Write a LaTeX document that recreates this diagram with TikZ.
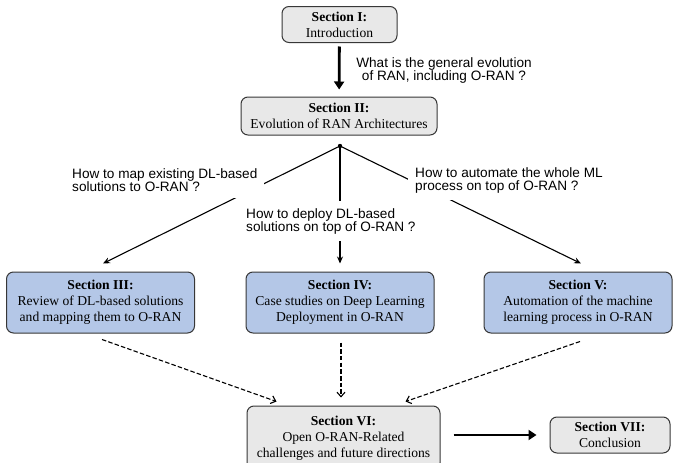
\documentclass[tikz,border=0pt]{standalone}
\usepackage{fontspec}
\setmainfont{Liberation Serif}
\newfontfamily\labelfont{Liberation Sans}
\usetikzlibrary{arrows.meta,calc}
\definecolor{boxgray}{RGB}{232,232,232}
\definecolor{boxblue}{RGB}{180,199,231}
\definecolor{boxline}{RGB}{55,55,55}
\begin{document}
\begin{tikzpicture}[x=1pt,y=-1pt,
 sec/.style={draw=boxline, line width=1pt, rounded corners=7pt, align=center,
   font=\fontsize{13.6}{16}\selectfont, inner sep=0pt},
 graysec/.style={sec, fill=boxgray},
 bluesec/.style={sec, fill=boxblue, minimum width=188pt, minimum height=61pt},
 qlabel/.style={font=\labelfont\fontsize{13.6}{13}\selectfont, align=left, fill=white, inner sep=7pt},
 thinarrow/.style={line width=1.1pt, -{Stealth[length=7pt,width=6pt]}},
 dasharrow/.style={line width=1.1pt, dash pattern=on 4.5pt off 2.2pt, -{Straight Barb[length=4.5pt,width=8pt]}},
 thickarrow/.style={line width=2.8pt, -{Triangle[length=8pt,width=10pt]}}
]
\useasboundingbox (0,0) rectangle (673,463);

% boxes
\node[graysec, minimum width=115pt, minimum height=36pt] (s1) at (339.5,24.5) {\textbf{Section I:}\\Introduction};
\node[graysec, minimum width=196pt, minimum height=38pt] (s2) at (339,116) {\textbf{Section II:}\\Evolution of RAN Architectures};
\node[bluesec] (s3) at (100.5,302.5) {\textbf{Section III:}\\Review of DL-based solutions\\and mapping them to O-RAN};
\node[bluesec] (s4) at (340,302.5) {\textbf{Section IV:}\\Case studies on Deep Learning\\Deployment in O-RAN};
\node[bluesec] (s5) at (578,302.5) {\textbf{Section V:}\\Automation of the machine\\learning process in O-RAN};
\node[graysec, minimum width=193pt, minimum height=64pt] (s6) at (343.5,438) {\textbf{Section VI:}\\Open O-RAN-Related\\challenges and future directions};
\node[graysec, minimum width=120pt, minimum height=36pt] (s7) at (610,435) {\textbf{Section VII:}\\Conclusion};

% branch point
\coordinate (br) at (340,146);
\fill (br) circle (2.2pt);

% top arrow
\draw[thickarrow, shorten <=3.5pt, shorten >=7pt] (s1) -- (s2);
\node[qlabel, align=center, fill=none] (q0) at (444,70) {What is the general evolution\\of RAN, including O-RAN ?};

% branch arrows
\draw[thinarrow] (br) -- ($(s3.north)+(2.5,-8)$);
\draw[thinarrow, shorten >=8pt] (br) -- (s4.north);
\draw[thinarrow] (br) -- ($(s5.north)+(3,-8)$);

\node[qlabel, anchor=west] (q1) at (65,180) {How to map existing DL-based\\solutions to O-RAN ?};
\node[qlabel, anchor=west] (q2) at (239,221) {How to deploy DL-based\\solutions on top of O-RAN ?};
\node[qlabel, anchor=west] (q3) at (408,180) {How to automate the whole ML\\process on top of O-RAN ?};

% dashed arrows
\draw[dasharrow] ($(s3.south)+(1.5,6)$) -- ($(s6.north west)+(30,-4)$);
\draw[dasharrow] ($(s4.south)+(1,9)$) -- ($(s6.north)+(-2.5,-8)$);
\draw[dasharrow] ($(s5.south)+(2,8)$) -- ($(s6.north east)+(-35,-4)$);

% bottom arrow
\draw[thickarrow, shorten <=13pt, shorten >=13pt] (s6.east |- s7.west) -- (s7.west);
\end{tikzpicture}
\end{document}
